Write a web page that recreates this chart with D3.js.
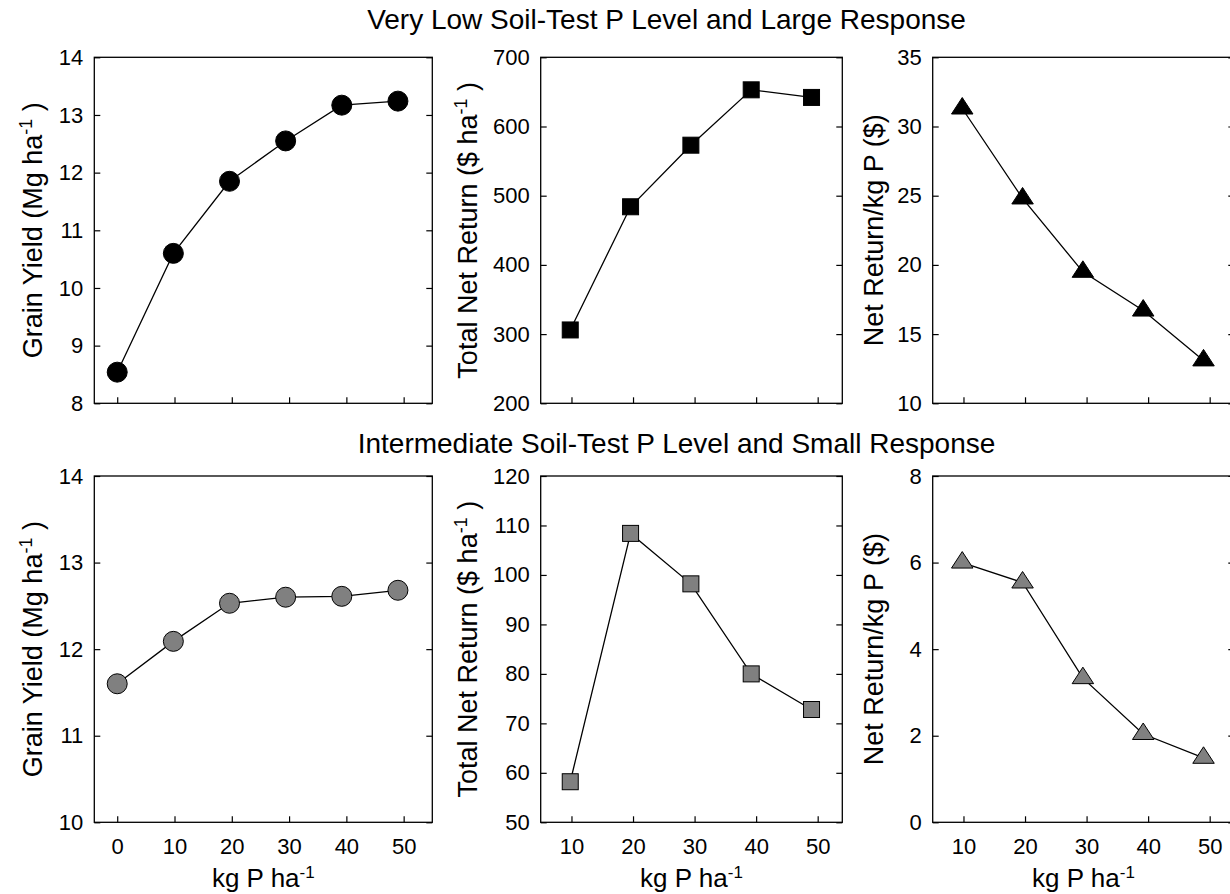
<!DOCTYPE html>
<html>
<head>
<meta charset="utf-8">
<script src="https://cdn.jsdelivr.net/npm/d3@7"></script>
<style>
  html, body { margin: 0; padding: 0; background: #fff; }
  svg { display: block; }
  text { font-family: "Liberation Sans", Arial, sans-serif; fill: #000; }
</style>
</head>
<body>
<svg id="chart" width="1230" height="894"></svg>
<script>
// ---------------- data ----------------
const rateYield = [0, 9.8, 19.6, 29.4, 39.2, 49];        // kg P/ha (yield panels)
const rateReturn = [9.8, 19.6, 29.4, 39.2, 49];          // kg P/ha (return panels)

const yieldLow = [8.54, 10.60, 11.85, 12.55, 13.17, 13.24];
const totalReturnLow = [306, 484, 573, 653, 642];
const perKgReturnLow = [31.3, 24.8, 19.5, 16.7, 13.1];

const yieldInt = [11.60, 12.09, 12.53, 12.60, 12.61, 12.68];
const totalReturnInt = [58.2, 108.4, 98.2, 80.0, 72.8];
const perKgReturnInt = [6.0, 5.54, 3.33, 2.04, 1.49];

const xTicksYield = [0, 10, 20, 30, 40, 50];
const xTicksReturn = [10, 20, 30, 40, 50];

const yTicksYieldLow = [8, 9, 10, 11, 12, 13, 14];
const yTicksTotalLow = [200, 300, 400, 500, 600, 700];
const yTicksPerKgLow = [10, 15, 20, 25, 30, 35];
const yTicksYieldInt = [10, 11, 12, 13, 14];
const yTicksTotalInt = [50, 60, 70, 80, 90, 100, 110, 120];
const yTicksPerKgInt = [0, 2, 4, 6, 8];

const rowTitles = ["Very Low Soil-Test P Level and Large Response",
                   "Intermediate Soil-Test P Level and Small Response"];

// ---------------- layout ----------------
const svg = d3.select("#chart");
const colX = [[94.3, 432.3], [540.7, 842.3], [932.7, 1234.3]];
const rowY = [[57.3, 403.3], [476, 822.3]];
const colXDomain = [[-4, 55], [5, 54], [5, 54]];
const labelBaseX = [42, 477, 883];
const titlePos = [[666.5, 29], [676.5, 453]];

const panels = [
  {row:0, col:0, x:rateYield, y:yieldLow, yd:[8,14], yt:yTicksYieldLow, xt:xTicksYield, sym:"circle", fill:"#000", label:"yield"},
  {row:0, col:1, x:rateReturn, y:totalReturnLow, yd:[200,700], yt:yTicksTotalLow, xt:xTicksReturn, sym:"square", fill:"#000", label:"total"},
  {row:0, col:2, x:rateReturn, y:perKgReturnLow, yd:[10,35], yt:yTicksPerKgLow, xt:xTicksReturn, sym:"triangle", fill:"#000", label:"perkg"},
  {row:1, col:0, x:rateYield, y:yieldInt, yd:[10,14], yt:yTicksYieldInt, xt:xTicksYield, sym:"circle", fill:"#808080", label:"yield"},
  {row:1, col:1, x:rateReturn, y:totalReturnInt, yd:[50,120], yt:yTicksTotalInt, xt:xTicksReturn, sym:"square", fill:"#808080", label:"total"},
  {row:1, col:2, x:rateReturn, y:perKgReturnInt, yd:[0,8], yt:yTicksPerKgInt, xt:xTicksReturn, sym:"triangle", fill:"#808080", label:"perkg"}
];

// row titles
rowTitles.forEach((t, i) => {
  svg.append("text")
    .attr("x", titlePos[i][0]).attr("y", titlePos[i][1])
    .attr("text-anchor", "middle")
    .style("font-size", "28px")
    .text(t);
});

function addYLabel(g, kind, bx, cy) {
  const t = g.append("text")
    .attr("transform", `translate(${bx},${cy}) rotate(-90)`)
    .attr("text-anchor", "middle")
    .style("font-size", "27px");
  if (kind === "yield") {
    t.append("tspan").text("Grain Yield (Mg ha");
    t.append("tspan").attr("dy", -10).style("font-size", "18px").text("-1");
    t.append("tspan").attr("dy", 10).text(" )");
  } else if (kind === "total") {
    t.append("tspan").text("Total Net Return ($ ha");
    t.append("tspan").attr("dy", -10).style("font-size", "18px").text("-1");
    t.append("tspan").attr("dy", 10).text(" )");
  } else {
    t.append("tspan").text("Net Return/kg P ($)");
  }
}

panels.forEach(p => {
  const [x0, x1] = colX[p.col];
  const [y0, y1] = rowY[p.row];
  const w = x1 - x0, h = y1 - y0;
  const g = svg.append("g").attr("transform", `translate(${x0},${y0})`);
  const xs = d3.scaleLinear().domain(colXDomain[p.col]).range([0, w]);
  const ys = d3.scaleLinear().domain(p.yd).range([h, 0]);

  // left axis (inward ticks)
  const left = g.append("g").call(d3.axisLeft(ys).tickValues(p.yt).tickSize(-6).tickSizeOuter(0).tickPadding(11).tickFormat(d3.format("d")));
  left.selectAll("text").style("font-size", "22px");
  // right axis (inward ticks, no labels)
  g.append("g").attr("transform", `translate(${w},0)`)
    .call(d3.axisRight(ys).tickValues(p.yt).tickSize(-6).tickSizeOuter(0).tickFormat(""));
  // bottom axis
  const bottom = g.append("g").attr("transform", `translate(0,${h})`)
    .call(d3.axisBottom(xs).tickValues(p.xt).tickSize(-6).tickSizeOuter(0).tickPadding(16)
      .tickFormat(p.row === 1 ? d3.format("d") : ""));
  bottom.selectAll("text").style("font-size", "22px");
  g.selectAll(".domain").remove();
  g.selectAll(".tick line").attr("stroke", "#000").attr("stroke-width", 1.2);

  // frame
  g.append("rect").attr("x", 0).attr("y", 0).attr("width", w).attr("height", h)
    .attr("fill", "none").attr("stroke", "#000").attr("stroke-width", 1.3);

  // line
  const pts = p.x.map((xv, i) => [xv, p.y[i]]);
  g.append("path").datum(pts)
    .attr("fill", "none").attr("stroke", "#000").attr("stroke-width", 1.3)
    .attr("d", d3.line().x(d => xs(d[0])).y(d => ys(d[1])));

  // markers
  const m = g.selectAll(".mk").data(pts).enter();
  const sw = 1;
  if (p.sym === "circle") {
    m.append("circle").attr("cx", d => xs(d[0])).attr("cy", d => ys(d[1])).attr("r", 10)
      .attr("fill", p.fill).attr("stroke", "#000").attr("stroke-width", sw);
  } else if (p.sym === "square") {
    const s = 16;
    m.append("rect").attr("x", d => xs(d[0]) - s/2).attr("y", d => ys(d[1]) - s/2)
      .attr("width", s).attr("height", s)
      .attr("fill", p.fill).attr("stroke", "#000").attr("stroke-width", sw);
  } else {
    const tw = 21.5, th = 16.5;
    m.append("path")
      .attr("d", d => {
        const cx = xs(d[0]), cy = ys(d[1]);
        return `M${cx},${cy - th*2/3} L${cx + tw/2},${cy + th/3} L${cx - tw/2},${cy + th/3} Z`;
      })
      .attr("fill", p.fill).attr("stroke", "#000").attr("stroke-width", sw);
  }

  // y label
  addYLabel(svg, p.label, labelBaseX[p.col], (y0 + y1) / 2);

  // x label (bottom row only)
  if (p.row === 1) {
    const t = svg.append("text")
      .attr("x", (x0 + Math.min(x1, 1234.3)) / 2 + (p.col === 2 ? 0 : 0))
      .attr("y", 887)
      .attr("text-anchor", "middle")
      .style("font-size", "26px");
    t.append("tspan").text("kg P ha");
    t.append("tspan").attr("dy", -9).style("font-size", "17px").text("-1");
  }
});
</script>
</body>
</html>
